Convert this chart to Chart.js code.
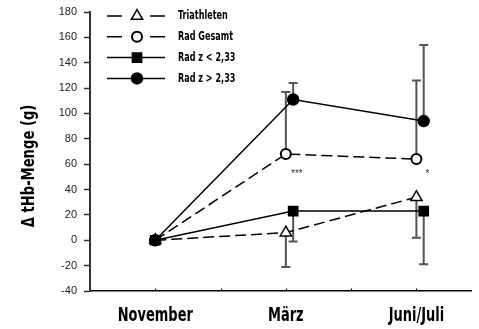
<!DOCTYPE html>
<html>
<head>
<meta charset="utf-8">
<script src="https://cdn.jsdelivr.net/npm/chart.js@4/dist/chart.umd.min.js"></script>
<style>
  body { margin: 0; background: #fff; }
  #wrap { width: 479px; height: 329px; }
</style>
</head>
<body>
<div id="wrap"><canvas id="chart" width="479" height="329"></canvas></div>
<script>
const categories = ['November', 'März', 'Juni/Juli'];
const seriesNames = ['Triathleten', 'Rad Gesamt', 'Rad z < 2,33', 'Rad z > 2,33'];

// mean values (g)
const triathleten = [0, 6, 34];
const radGesamt = [0, 68, 64];
const radZLow = [0, 23, 23];
const radZHigh = [0, 111, 94];

// one-sided error bars
const errTriDown = [0, 27, 32];
const errGesamtUp = [0, 49, 62];
const errZLowDown = [0, 24, 42];
const errZHighUp = [0, 13, 60];

// significance marks
const sigText = ['***', '*'];
const sigX = [1, 2];
const sigY = [52, 52];

const yMin = -40, yMax = 180, yStep = 20;

const condensed = "'Liberation Sans Narrow', 'DejaVu Sans Condensed', 'Arial Narrow', sans-serif";
const SHIFT = 0.056; // small side offset for the "Rad z" groups

const toPts = (vals, shifted) => vals.map((v, i) => ({ x: i + (shifted && i > 0 ? SHIFT : 0), y: v }));

const datasets = [
  { label: seriesNames[0], data: toPts(triathleten, false), borderDash: [11, 5],
    pointStyle: 'triangle', pointRadius: 6.5, pointBackgroundColor: '#fff', errDown: errTriDown, order: 3 },
  { label: seriesNames[1], data: toPts(radGesamt, false), borderDash: [11, 5],
    pointStyle: 'circle', pointRadius: 5, pointBackgroundColor: '#fff', pointBorderWidth: 2, errUp: errGesamtUp, order: 2 },
  { label: seriesNames[2], data: toPts(radZLow, true), borderDash: [],
    pointStyle: 'rect', pointRadius: 6.5, pointBackgroundColor: '#000', errDown: errZLowDown, order: 1 },
  { label: seriesNames[3], data: toPts(radZHigh, true), borderDash: [],
    pointStyle: 'circle', pointRadius: 5.5, pointBackgroundColor: '#000', errUp: errZHighUp, order: 0 }
].map(d => Object.assign({
  borderColor: '#000', borderWidth: 1.5, pointBorderColor: '#000',
  pointBorderWidth: d.pointBorderWidth || 1.5, pointHoverRadius: d.pointRadius, tension: 0, fill: false
}, d));

// error bars, drawn under the markers
const errorBars = {
  id: 'errorBars',
  beforeDatasetsDraw(chart) {
    const ctx = chart.ctx, ys = chart.scales.y;
    ctx.save();
    ctx.strokeStyle = '#555';
    ctx.lineWidth = 2;
    chart.data.datasets.forEach((ds, di) => {
      const meta = chart.getDatasetMeta(di);
      const errs = ds.errUp || ds.errDown;
      const sign = ds.errUp ? 1 : -1;
      meta.data.forEach((pt, i) => {
        if (!errs[i]) return;
        const y0 = ys.getPixelForValue(ds.data[i].y);
        const y1 = ys.getPixelForValue(ds.data[i].y + sign * errs[i]);
        ctx.beginPath();
        ctx.moveTo(pt.x, y0); ctx.lineTo(pt.x, y1);
        ctx.moveTo(pt.x - 4.5, y1); ctx.lineTo(pt.x + 4.5, y1);
        ctx.stroke();
      });
    });
    ctx.restore();
  }
};

// narrow text: condensed face squeezed a little more
function narrowText(ctx, text, x, y, size, squeeze, rot) {
  ctx.save();
  ctx.translate(x, y);
  if (rot) ctx.rotate(rot);
  ctx.scale(squeeze, 1);
  ctx.font = 'bold ' + size + 'px ' + condensed;
  ctx.fillText(text, 0, 0);
  ctx.restore();
}

// legend, axis title, x labels, minor ticks, significance stars
const extras = {
  id: 'extras',
  afterDraw(chart) {
    const ctx = chart.ctx, xs = chart.scales.x, ys = chart.scales.y;
    ctx.save();

    // tiny inward ticks on x axis
    ctx.strokeStyle = '#000'; ctx.lineWidth = 1;
    [0, 0.5, 1, 1.5, 2].forEach(v => {
      const px = Math.round(xs.getPixelForValue(v)) + 0.5;
      ctx.beginPath(); ctx.moveTo(px, ys.bottom); ctx.lineTo(px, ys.bottom - 2.5); ctx.stroke();
    });

    // category labels from the x scale's ticks
    ctx.fillStyle = '#000';
    ctx.textAlign = 'center'; ctx.textBaseline = 'alphabetic';
    xs.ticks.forEach(t => {
      narrowText(ctx, categories[t.value], xs.getPixelForValue(t.value), 321, 19, 0.76, 0);
    });

    // stars
    ctx.fillStyle = '#333';
    ctx.font = "10px 'Liberation Sans', sans-serif";
    ctx.textAlign = 'center'; ctx.textBaseline = 'middle';
    sigText.forEach((t, i) => {
      ctx.fillText(t, xs.getPixelForValue(sigX[i]) + 11, ys.getPixelForValue(sigY[i]));
    });

    // y title
    ctx.fillStyle = '#000';
    narrowText(ctx, 'Δ tHb-Menge (g)', 30, 166, 17, 0.86, -Math.PI / 2);

    // legend
    const x0 = 107, x1 = 165, xm = 137;
    chart.data.datasets.forEach((ds, i) => {
      const y = 16 + i * 20.8;
      ctx.strokeStyle = '#000'; ctx.lineWidth = 1.5;
      ctx.beginPath();
      if (ds.borderDash.length) {
        ctx.moveTo(x0, y); ctx.lineTo(x0 + 15, y);
        ctx.moveTo(x1 - 15, y); ctx.lineTo(x1, y);
      } else {
        ctx.moveTo(x0, y); ctx.lineTo(x1, y);
      }
      ctx.stroke();
      ctx.fillStyle = ds.pointBackgroundColor;
      ctx.strokeStyle = '#000';
      ctx.lineWidth = ds.pointBorderWidth;
      Chart.helpers.drawPoint(ctx, { pointStyle: ds.pointStyle, radius: ds.pointRadius, rotation: 0, borderWidth: ds.pointBorderWidth }, xm, y);
      ctx.fillStyle = '#000';
      ctx.textAlign = 'left'; ctx.textBaseline = 'middle';
      narrowText(ctx, ds.label, 178, y, 12.5, 0.72, 0);
    });
    ctx.restore();
  }
};

new Chart(document.getElementById('chart').getContext('2d'), {
  type: 'line',
  data: { datasets },
  plugins: [errorBars, extras],
  options: {
    responsive: false,
    animation: false,
    layout: { padding: { top: 12, right: -5, left: 0, bottom: 0 } },
    plugins: { legend: { display: false }, tooltip: { enabled: false } },
    scales: {
      x: {
        type: 'linear',
        min: -0.5,
        max: -0.5 + 389 / 133.3,
        afterFit: s => { s.height = 38; s.paddingLeft = 0; s.paddingRight = 0; },
        afterBuildTicks: s => { s.ticks = categories.map((c, i) => ({ value: i })); },
        grid: { display: false },
        border: { display: true, color: '#000', width: 1.5 },
        ticks: { display: false }
      },
      y: {
        min: yMin,
        max: yMax,
        afterFit: s => { s.width = 90; s.paddingTop = 0; s.paddingBottom = 0; },
        grid: { display: true, drawOnChartArea: false, drawTicks: true, tickLength: 6, color: '#333', tickWidth: 1.5 },
        border: { display: true, color: '#333', width: 2 },
        ticks: {
          stepSize: yStep,
          padding: 7,
          color: '#222',
          font: { family: "'Liberation Sans', Arial, sans-serif", size: 11 }
        }
      }
    }
  }
});
</script>
</body>
</html>
